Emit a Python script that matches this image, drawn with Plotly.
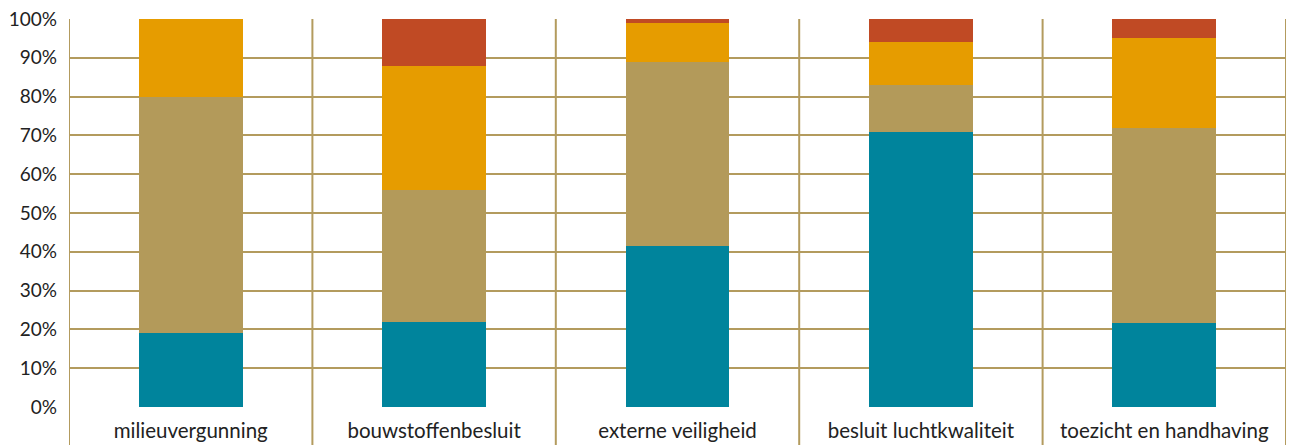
import plotly.graph_objects as go

categories = ["milieuvergunning", "bouwstoffenbesluit", "externe veiligheid",
              "besluit luchtkwaliteit", "toezicht en handhaving"]
teal_vals = [19, 22, 41.6, 71, 21.7]
tan_vals = [61, 34, 47.4, 12, 50.3]
orange_vals = [20, 32, 10, 11, 23]
red_vals = [0, 12, 1, 6, 5]
y_ticks = [0, 10, 20, 30, 40, 50, 60, 70, 80, 90, 100]

GRID = "#B39B5E"
series = [
    ("s1", teal_vals, "#00849C"),
    ("s2", tan_vals, "#B39A5A"),
    ("s3", orange_vals, "#E69C00"),
    ("s4", red_vals, "#C04A24"),
]

fig = go.Figure()
for name, vals, col in series:
    fig.add_trace(go.Bar(x=categories, y=vals, name=name, marker=dict(color=col, line=dict(width=0))))

shapes = []
for i in range(len(categories) + 1):
    shapes.append(dict(type="line", xref="x", yref="paper", x0=i - 0.5, x1=i - 0.5,
                       y0=-0.2, y1=1, line=dict(color=GRID, width=2), layer="below"))

fig.update_layout(
    template="none",
    barmode="stack",
    bargap=0.573,
    width=1290, height=445,
    margin=dict(l=69, r=4, t=19, b=38),
    plot_bgcolor="white", paper_bgcolor="white",
    showlegend=False,
    shapes=shapes,
    font=dict(family="Lato, DejaVu Sans, sans-serif", size=19, color="#222222"),
    xaxis=dict(showgrid=False, zeroline=False, showline=False, ticks="", automargin=False,
               ticklabelstandoff=9, range=[-0.5, 4.5], tickfont=dict(size=20.5)),
    yaxis=dict(range=[0, 100], tickvals=y_ticks, ticktext=[f"{v}%" for v in y_ticks],
               showgrid=True, gridcolor=GRID, gridwidth=2, zeroline=False, automargin=False,
               showline=False, ticks="", ticklabelstandoff=11, tickfont=dict(size=19)),
)
fig.write_html("out.html", config={"displayModeBar": False},
               post_script="document.body.style.margin='0';document.body.style.overflow='hidden';")
